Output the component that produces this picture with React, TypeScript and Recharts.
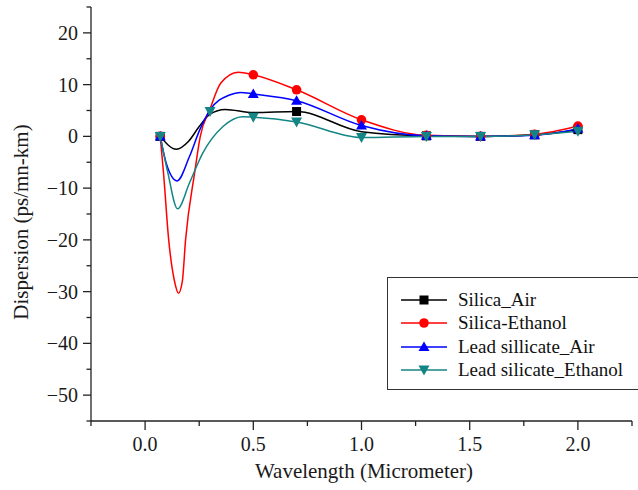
import React from 'react';
import { ComposedChart, Line, Scatter, XAxis, YAxis, Label } from 'recharts';

// Marker positions (Wavelength, Micrometer)
const wavelengths = [0.07, 0.3, 0.5, 0.7, 1.0, 1.3, 1.55, 1.8, 2.0];

// Marker values (Dispersion, ps/mn-km); null = no visible marker
const silicaAirPoints = [0, null, null, 4.8, null, 0.1, 0, 0.3, 1.3];
const silicaEthanolPoints = [0, null, 11.9, 9.0, 3.2, 0.2, 0, 0.4, 2.0];
const leadAirPoints = [0, null, 8.2, 6.9, 2.1, 0.1, 0, 0.2, 1.5];
const leadEthanolPoints = [0, 4.8, 3.7, 2.8, -0.2, 0, 0, 0.3, 1.0];

// Smoothed curve points
const silicaAirCurveX = [0.07, 0.145, 0.2, 0.25, 0.3, 0.37, 0.5, 0.7, 1.0, 1.3, 1.55, 1.8, 2.0];
const silicaAirCurveY = [0, -2.5, -1.0, 1.9, 4.3, 5.2, 4.6, 4.8, 0.9, 0.1, 0, 0.3, 1.3];

const silicaEthanolCurveX = [0.07, 0.085, 0.109, 0.136, 0.154, 0.172, 0.187, 0.229, 0.255, 0.3, 0.35, 0.43, 0.5, 0.7, 1.0, 1.3, 1.55, 1.8, 2.0];
const silicaEthanolCurveY = [0, -7, -20, -28, -30.3, -28, -20, -7, 0, 5.3, 10.3, 12.4, 11.9, 9.0, 3.2, 0.2, 0, 0.4, 2.0];

const leadAirCurveX = [0.07, 0.097, 0.148, 0.205, 0.253, 0.3, 0.39, 0.44, 0.5, 0.7, 1.0, 1.3, 1.55, 1.8, 2.0];
const leadAirCurveY = [0, -5.1, -8.6, -3.9, 1.3, 5.1, 8.0, 8.5, 8.2, 6.9, 2.1, 0.1, 0, 0.2, 1.5];

const leadEthanolCurveX = [0.07, 0.105, 0.15, 0.205, 0.267, 0.36, 0.45, 0.5, 0.7, 1.0, 1.3, 1.55, 1.8, 2.0];
const leadEthanolCurveY = [0, -7, -14, -9, -3.2, 1.9, 3.8, 3.7, 2.8, -0.2, 0, 0, 0.3, 1.0];

const seriesNames = ['Silica_Air', 'Silica-Ethanol', 'Lead sillicate_Air', 'Lead silicate_Ethanol'];

const xTicks = [-0.25, 0, 0.25, 0.5, 0.75, 1.0, 1.25, 1.5, 1.75, 2.0, 2.25];
const xLabels = [0, 0.5, 1.0, 1.5, 2.0];
const yTicks = [-55, -50, -45, -40, -35, -30, -25, -20, -15, -10, -5, 0, 5, 10, 15, 20, 25];
const yLabels = [-50, -40, -30, -20, -10, 0, 10, 20];

const FONT = "'Liberation Serif', 'Times New Roman', serif";
const AXIS = '#222';
const COLORS = ['#000000', '#ff0000', '#0000ff', '#138585'];

const toCurve = (xs: number[], ys: number[]) => xs.map((x, i) => ({ x, y: ys[i] }));
const toMarkers = (ys: (number | null)[]) =>
  wavelengths.map((x, i) => ({ x, y: ys[i] })).filter((p) => p.y !== null);

const near = (a: number, b: number) => Math.abs(a - b) < 1e-6;

const Marker = ({ kind, cx, cy, color }: any) => {
  if (cx == null || cy == null) return null;
  if (kind === 0) return <rect x={cx - 4.5} y={cy - 4.5} width={9} height={9} fill={color} />;
  if (kind === 1) return <circle cx={cx} cy={cy} r={4.8} fill={color} />;
  if (kind === 2)
    return <polygon points={`${cx},${cy - 5.5} ${cx - 5.5},${cy + 4} ${cx + 5.5},${cy + 4}`} fill={color} />;
  return <polygon points={`${cx - 5.5},${cy - 4.5} ${cx + 5.5},${cy - 4.5} ${cx},${cy + 5.5}`} fill={color} />;
};

const XTick = (props: any) => {
  const { x, y, payload } = props;
  const v = payload.value as number;
  const major = near(v * 2, Math.round(v * 2));
  const show = xLabels.some((l) => near(l, v));
  return (
    <g>
      <line x1={x} x2={x} y1={y} y2={y + (major ? 9 : 5)} stroke={AXIS} strokeWidth={1.3} />
      {show && (
        <text x={x} y={y + 30} textAnchor="middle" fontFamily={FONT} fontSize={20} fill="#1a1a1a">
          {v.toFixed(1)}
        </text>
      )}
    </g>
  );
};

const YTick = (props: any) => {
  const { x, y, payload } = props;
  const v = payload.value as number;
  const major = v % 10 === 0;
  const show = yLabels.some((l) => near(l, v));
  const label = v < 0 ? '\u2212' + Math.abs(v) : String(v);
  return (
    <g>
      <line x1={x - (major ? 8 : 4.5)} x2={x} y1={y} y2={y} stroke={AXIS} strokeWidth={1.3} />
      {show && (
        <text x={x - 13} y={y} dy="0.35em" textAnchor="end" fontFamily={FONT} fontSize={20} fill="#1a1a1a">
          {label}
        </text>
      )}
    </g>
  );
};

const curves = [
  toCurve(silicaAirCurveX, silicaAirCurveY),
  toCurve(silicaEthanolCurveX, silicaEthanolCurveY),
  toCurve(leadAirCurveX, leadAirCurveY),
  toCurve(leadEthanolCurveX, leadEthanolCurveY),
];
const markers = [
  toMarkers(silicaAirPoints),
  toMarkers(silicaEthanolPoints),
  toMarkers(leadAirPoints),
  toMarkers(leadEthanolPoints),
];

const LegendBox = () => (
  <div
    style={{
      position: 'absolute',
      left: 387,
      top: 277,
      width: 251,
      height: 113,
      border: '1.3px solid #333',
      borderRight: 'none',
      background: '#fff',
      boxSizing: 'border-box',
    }}
  >
    {seriesNames.map((name, i) => (
      <div
        key={name}
        style={{ position: 'absolute', left: 0, top: 22 + i * 23.35 - 11, height: 22, width: 251, display: 'flex', alignItems: 'center' }}
      >
        <svg width={60} height={22} style={{ display: 'block', flex: 'none' }}>
          <line x1={13} x2={59} y1={11} y2={11} stroke={COLORS[i]} strokeWidth={1.5} />
          <Marker kind={i} cx={36} cy={11} color={COLORS[i]} />
        </svg>
        <span style={{ marginLeft: 10, fontFamily: FONT, fontSize: 19, color: '#111', whiteSpace: 'nowrap', lineHeight: '22px' }}>
          {name}
        </span>
      </div>
    ))}
  </div>
);

export default function App() {
  return (
    <div style={{ position: 'absolute', left: 0, top: 0, width: 638, height: 490, overflow: 'hidden', background: '#fff' }}>
      <ComposedChart width={638} height={490} margin={{ top: 7, right: 6, bottom: 0, left: 0 }}>
        <XAxis
          type="number"
          dataKey="x"
          domain={[-0.25, 2.25]}
          ticks={xTicks}
          interval={0}
          height={69}
          tickSize={0}
          tickMargin={0}
          tickLine={false}
          tick={<XTick />}
          axisLine={{ stroke: AXIS, strokeWidth: 1.3 }}
          allowDataOverflow
        >
          <Label
            content={() => (
              <text x={364} y={478} textAnchor="middle" fontFamily={FONT} fontSize={21} fill="#1a1a1a">
                Wavelength (Micrometer)
              </text>
            )}
          />
        </XAxis>
        <YAxis
          type="number"
          domain={[-55, 25]}
          ticks={yTicks}
          interval={0}
          width={91}
          tickSize={0}
          tickMargin={0}
          tickLine={false}
          tick={<YTick />}
          axisLine={{ stroke: AXIS, strokeWidth: 1.3 }}
          allowDataOverflow
        >
          <Label
            content={() => (
              <text
                x={21}
                y={222}
                transform="rotate(-90 21 222)"
                textAnchor="middle"
                dy="0.35em"
                fontFamily={FONT}
                fontSize={21}
                fill="#1a1a1a"
              >
                Dispersion (ps/mn-km)
              </text>
            )}
          />
        </YAxis>
        {[0, 1, 2, 3].map((i) => [
          <Line
            key={'l' + i}
            data={curves[i]}
            dataKey="y"
            type="monotone"
            stroke={COLORS[i]}
            strokeWidth={1.5}
            dot={false}
            activeDot={false}
            isAnimationActive={false}
            name={seriesNames[i]}
          />,
          <Scatter
            key={'s' + i}
            data={markers[i]}
            dataKey="y"
            isAnimationActive={false}
            shape={(p: any) => <Marker kind={i} cx={p.cx} cy={p.cy} color={COLORS[i]} />}
          />,
        ])}
      </ComposedChart>
      <LegendBox />
    </div>
  );
}
